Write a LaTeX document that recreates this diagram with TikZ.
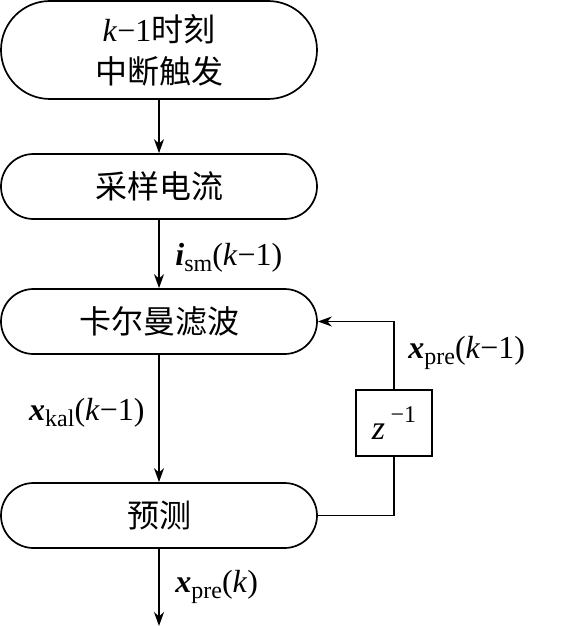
\documentclass[tikz,border=0pt]{standalone}
\usepackage{fontspec}
\setmainfont{Liberation Serif}
\newfontfamily\cjk{Noto Sans CJK SC}
\usetikzlibrary{shapes.misc,arrows.meta}
\tikzset{
  stage/.style={draw, rounded rectangle, line width=0.85pt, minimum width=158pt,
    minimum height=32.5pt, inner sep=0pt, align=center,
    font=\fontsize{16}{21}\selectfont},
  delaybox/.style={draw, line width=0.85pt, minimum width=38pt, minimum height=33pt,
    inner sep=0pt, font=\fontsize{17}{18}\selectfont},
  sig/.style={inner sep=0pt, font=\fontsize{16}{18}\selectfont},
  wire/.style={line width=0.85pt},
  flow/.style={wire, -{Stealth[length=7pt,width=5pt,inset=2.2pt]}}
}
\newcommand\vb[1]{\textbf{\textit{#1}}}
\newcommand\sbs[1]{\raisebox{-0.4ex}{\fontsize{12}{12}\selectfont #1}}
\begin{document}
\begin{tikzpicture}[x=0.5pt,y=-0.5pt]
\useasboundingbox (0,0) rectangle (570,626);
  \node[stage, minimum height=49pt] (start) at (159,50) {\textit{k}−1{\cjk 时刻}\\{\cjk 中断触发}};
  \node[stage] (sample) at (159,186.5) {\cjk 采样电流};
  \node[stage] (kalman) at (159,321.5) {\cjk 卡尔曼滤波};
  \node[stage] (predict) at (159,515.5) {\cjk 预测};
  \node[delaybox] (delay) at (394,423) {\textit{z}\,\raisebox{1.1ex}{\fontsize{12}{12}\selectfont −1}};
  \coordinate (out) at (159,626);
  % signal labels
  \node[sig, anchor=west] (ism) at (175,258) {\vb{i}\sbs{sm}(\textit{k}−1)};
  \node[sig, anchor=east] (xkal) at (145,413) {\vb{x}\sbs{kal}(\textit{k}−1)};
  \node[sig, anchor=west] (xprek) at (175,587) {\vb{x}\sbs{pre}(\textit{k})};
  \node[sig, anchor=west] (xpreold) at (408,353) {\vb{x}\sbs{pre}(\textit{k}−1)};
  \draw[flow] (start) -- (sample);
  \draw[flow] (sample) -- (kalman);
  \draw[flow] (kalman) -- (predict);
  \draw[flow] (predict) -- (out);
  \draw[wire] (predict.east) -| (delay.south);
  \draw[flow] (delay.north) |- (kalman.east);
\end{tikzpicture}
\end{document}
